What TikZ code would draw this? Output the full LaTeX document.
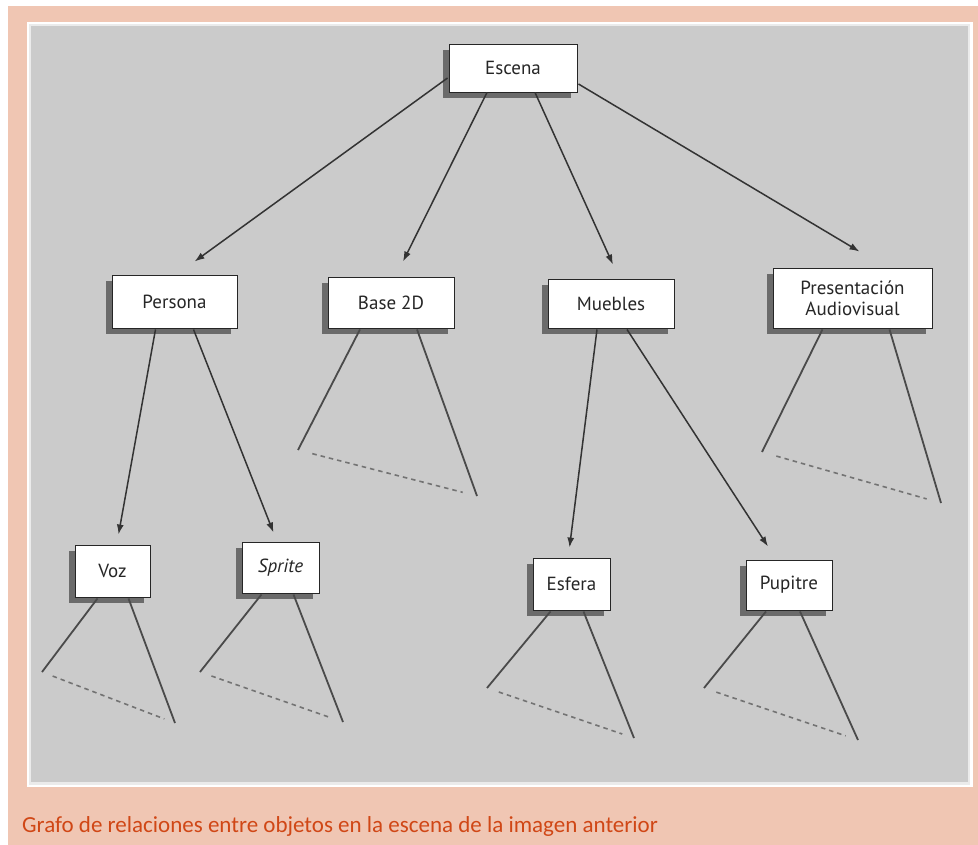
\documentclass[tikz,border=0pt]{standalone}
\usepackage{fontspec}
\setmainfont{PT Sans}
\newfontfamily\capfont{Carlito}
\usetikzlibrary{shadows,calc,arrows.meta}
\definecolor{peach}{HTML}{F0C6B3}
\definecolor{panelgray}{HTML}{CBCBCB}
\definecolor{captionred}{HTML}{D04716}
\definecolor{linegray}{HTML}{4A4A4A}
\begin{document}
\begin{tikzpicture}[x=1pt,y=-1pt,
  objbox/.style={draw=black!85, line width=0.9pt, fill=white, inner sep=0pt,
    font=\fontsize{19}{21}\selectfont, text=black!85, align=center,
    drop shadow={shadow xshift=-6pt, shadow yshift=-6pt, fill=black!58, opacity=1}},
  link/.style={draw=black!80, line width=1.5pt, -{Latex[length=10pt,width=7pt]}},
  branch/.style={draw=linegray, line width=1.8pt},
  subtree/.style={draw=black!55, line width=1.6pt, dash pattern=on 4.5pt off 4pt}
]
% page, frame and panel
\useasboundingbox (0,0) rectangle (978,845);
\fill[white] (0,0) rectangle (978,845);
\fill[peach] (8,6) rectangle (978,845);
\fill[white] (27,22) rectangle (973,787);
\fill[black!8] (29,24) rectangle (970,785);
\fill[panelgray] (31,26) rectangle (968,782);

% objects
\node[objbox, minimum width=128, minimum height=48] (esc) at (513,68) {Escena};
\node[objbox, minimum width=125, minimum height=53] (per) at (174.5,301.5) {Persona};
\node[objbox, minimum width=126, minimum height=51] (base) at (391,302.5) {Base 2D};
\node[objbox, minimum width=126, minimum height=49] (mue) at (611,303.5) {Muebles};
\node[objbox, minimum width=159, minimum height=60] (pre) at (852.5,298) {Presentación\\Audiovisual};
\node[objbox, minimum width=75, minimum height=52] (voz) at (112.5,571) {Voz};
\node[objbox, minimum width=77, minimum height=51] (spr) at (280.5,567.5) {\itshape Sprite};
\node[objbox, minimum width=77, minimum height=52] (esf) at (571.5,584) {Esfera};
\node[objbox, minimum width=86, minimum height=50] (pup) at (789,585) {Pupitre};

% relations
\draw[link] ($(esc.west)+(-1,10)$) -- ($(per.north)+(20,-13)$);
\draw[link] ($(esc.south)+(-26,0)$) -- ($(base.north)+(12,-15)$);
\draw[link] ($(esc.south)+(22,0)$) -- ($(mue.north)+(2,-14)$);
\draw[link] ($(esc.east)+(1,16)$) -- ($(pre.north)+(7,-16)$);
\draw[link] ($(per.south)+(-19,1)$) -- ($(voz.north)+(6,-10)$);
\draw[link] ($(per.south)+(19,1)$) -- ($(spr.north)+(-7,-9)$);
\draw[link] ($(mue.south)+(-14,1)$) -- ($(esf.north)+(-2,-10)$);
\draw[link] ($(mue.south)+(16,1)$) -- ($(pup.north)+(-21,-13)$);

% open sub-trees
\coordinate (baseL) at (298,450);  \coordinate (baseR) at (477,496);
\coordinate (preL) at (762,452);   \coordinate (preR) at (941,503);
\coordinate (vozL) at (42,672);    \coordinate (vozR) at (175,723);
\coordinate (sprL) at (200,672);   \coordinate (sprR) at (343,722);
\coordinate (esfL) at (487,688);   \coordinate (esfR) at (634,738);
\coordinate (pupL) at (704,688);   \coordinate (pupR) at (858,740);

\draw[branch] ($(base.south)+(-31,1)$) -- (baseL);
\draw[branch] ($(base.south)+(26,1)$) -- (baseR);
\draw[subtree] ($(baseL)!0.08!(baseR)$) -- ($(baseL)!0.92!(baseR)$);

\draw[branch] ($(pre.south)+(-30,1)$) -- (preL);
\draw[branch] ($(pre.south)+(37,1)$) -- (preR);
\draw[subtree] ($(preL)!0.08!(preR)$) -- ($(preL)!0.92!(preR)$);

\draw[branch] ($(voz.south)+(-15,1)$) -- (vozL);
\draw[branch] ($(voz.south)+(16,1)$) -- (vozR);
\draw[subtree] ($(vozL)!0.08!(vozR)$) -- ($(vozL)!0.92!(vozR)$);

\draw[branch] ($(spr.south)+(-19,1)$) -- (sprL);
\draw[branch] ($(spr.south)+(13,1)$) -- (sprR);
\draw[subtree] ($(sprL)!0.08!(sprR)$) -- ($(sprL)!0.92!(sprR)$);

\draw[branch] ($(esf.south)+(-21,1)$) -- (esfL);
\draw[branch] ($(esf.south)+(12,1)$) -- (esfR);
\draw[subtree] ($(esfL)!0.08!(esfR)$) -- ($(esfL)!0.92!(esfR)$);

\draw[branch] ($(pup.south)+(-23,1)$) -- (pupL);
\draw[branch] ($(pup.south)+(11,1)$) -- (pupR);
\draw[subtree] ($(pupL)!0.08!(pupR)$) -- ($(pupL)!0.92!(pupR)$);

% caption
\node[anchor=base west, inner sep=0pt, text=captionred,
  font=\capfont\fontsize{23}{26}\selectfont] (cap) at (22,832)
  {Grafo de relaciones entre objetos en la escena de la imagen anterior};
\end{tikzpicture}
\end{document}
